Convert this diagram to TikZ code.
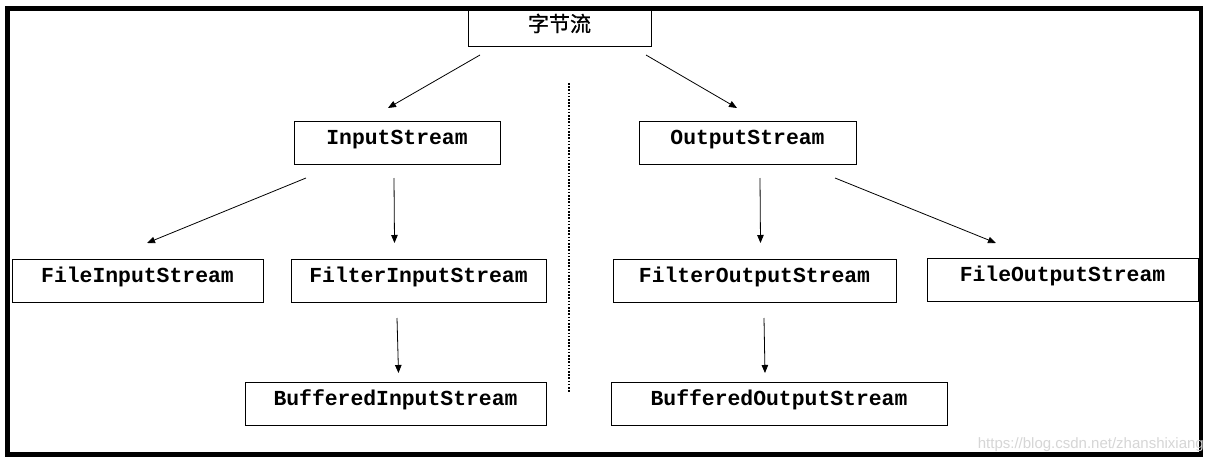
\documentclass[tikz,border=0pt]{standalone}
\usepackage{fontspec}
\setmonofont{Liberation Mono}
\newfontfamily\cjk{Noto Sans CJK SC}[FakeBold=0.9]
\newfontfamily\wmfont{Liberation Sans}
\usetikzlibrary{arrows.meta}
\tikzset{
  cls/.style={draw, line width=1pt, inner sep=0pt, text height=14pt, text depth=11pt,
    font=\fontsize{21.4}{24}\selectfont\ttfamily\bfseries},
  arr/.style={line width=0.8pt, -{Triangle[length=8pt,width=6.5pt]}},
  sep/.style={line width=1.6pt, dash pattern=on 1.6pt off 1.6pt},
  frame/.style={line width=4.8pt},
}
\begin{document}
\begin{tikzpicture}[x=1pt,y=-1pt]
\useasboundingbox (0,0) rectangle (1213,463);
\fill[white] (0,0) rectangle (1213,463);

% boxes
\node[draw, line width=1pt, minimum width=183pt, minimum height=38pt, inner sep=0pt,
      text height=17.5pt, text depth=8.5pt, font=\fontsize{21}{24}\selectfont\cjk] (root) at (559.5,27) {字节流};
\node[cls, minimum width=206pt, minimum height=43pt] (in) at (397,142.5) {InputStream};
\node[cls, minimum width=217pt, minimum height=43pt] (out) at (747.5,142.5) {OutputStream};
\node[cls, minimum width=251pt, minimum height=43pt] (fin) at (137.5,280.5) {FileInputStream};
\node[cls, minimum width=255pt, minimum height=43pt] (filin) at (418.5,280.5) {FilterInputStream};
\node[cls, minimum width=283pt, minimum height=43pt] (filout) at (754.5,280.5) {FilterOutputStream};
\node[cls, minimum width=271pt, minimum height=43pt] (fout) at (1062.5,279.5) {FileOutputStream};
\node[cls, minimum width=301pt, minimum height=43pt] (bin) at (395.5,403.5) {BufferedInputStream};
\node[cls, minimum width=336pt, minimum height=43pt] (bout) at (779,403.5) {BufferedOutputStream};

% free arrow ends
\coordinate (a1s) at (480,55);  \coordinate (a1e) at (388,108);
\coordinate (a2s) at (646,55);  \coordinate (a2e) at (737,108);
\coordinate (a3s) at (306,178); \coordinate (a3e) at (147,243);
\coordinate (a4s) at (394,178); \coordinate (a4e) at (394.5,243);
\coordinate (a5s) at (760,178); \coordinate (a5e) at (760.5,243);
\coordinate (a6s) at (835,178); \coordinate (a6e) at (996,243);
\coordinate (a7s) at (397,318); \coordinate (a7e) at (398.5,373);
\coordinate (a8s) at (764,318); \coordinate (a8e) at (765,373);

\draw[arr] (a1s) -- (a1e);
\draw[arr] (a2s) -- (a2e);
\draw[arr] (a3s) -- (a3e);
\draw[arr] (a4s) -- (a4e);
\draw[arr] (a5s) -- (a5e);
\draw[arr] (a6s) -- (a6e);
\draw[arr] (a7s) -- (a7e);
\draw[arr] (a8s) -- (a8e);

% separator
\coordinate (st) at (569,83); \coordinate (sb) at (569,393);
\draw[sep] (st) -- (sb);

% frame
\draw[frame] (7.5,8.5) rectangle (1201,454.5);

% watermark
\node[anchor=base east, inner sep=0pt, text=black!16, font=\fontsize{15}{18}\selectfont\wmfont] (wm) at (1204,448) {https://blog.csdn.net/zhanshixiang};
\end{tikzpicture}
\end{document}
